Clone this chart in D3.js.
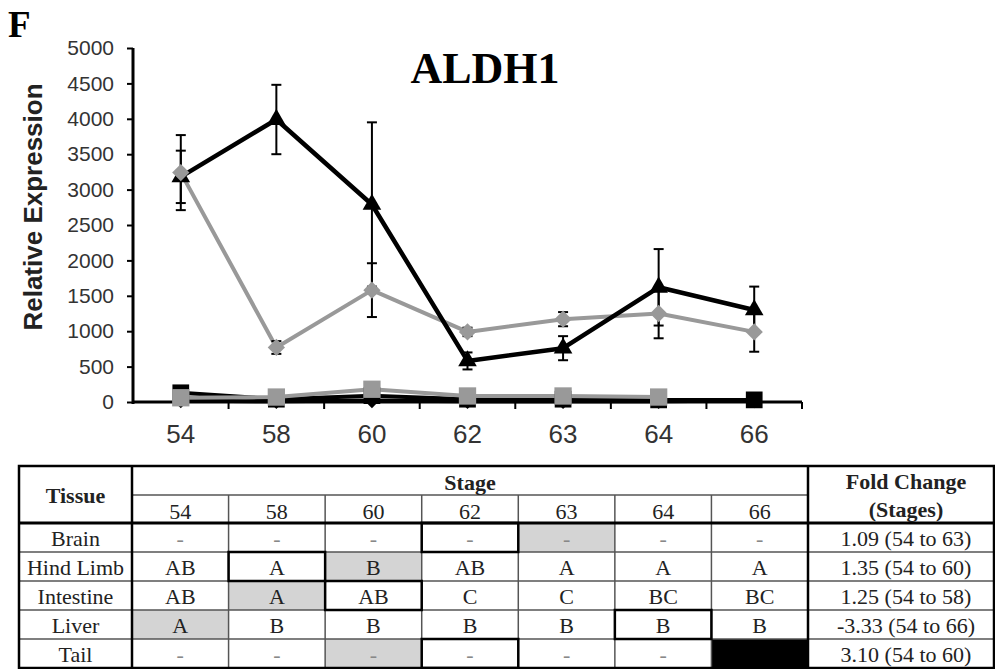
<!DOCTYPE html>
<html>
<head>
<meta charset="utf-8">
<script src="https://cdn.jsdelivr.net/npm/d3@7/dist/d3.min.js"></script>
<style>
  html, body { margin: 0; padding: 0; background: #fff; }
  svg { display: block; }
</style>
</head>
<body>
<svg id="fig" width="995" height="669"></svg>
<script>
// ALDH1 relative expression by developmental stage, with the statistics table below.
const stages = ["54", "58", "60", "62", "63", "64", "66"];
const yTicks = [0, 500, 1000, 1500, 2000, 2500, 3000, 3500, 4000, 4500, 5000];

// Series means and standard errors
const intestine    = [3180, 3990, 2790, 580, 760, 1620, 1300];
const intestineErr = [370, 490, 1160, 120, 170, 540, 330];
const liver        = [3240, 770, 1580, 990, 1170, 1250, 990];
const liverErr     = [530, 90, 380, 60, 100, 350, 280];
const tail         = [60, 70, 180, 85, 85, 70, null];
const brain        = [130, 40, 90, 40, 40, 30, 30];
const hindLimb     = [20, 10, 20, 10, 10, 10, 20];

// Table contents
const tissues = ["Brain", "Hind Limb", "Intestine", "Liver", "Tail"];
const groupLetters = [
  ["-", "-", "-", "-", "-", "-", "-"],
  ["AB", "A", "B", "AB", "A", "A", "A"],
  ["AB", "A", "AB", "C", "C", "BC", "BC"],
  ["A", "B", "B", "B", "B", "B", "B"],
  ["-", "-", "-", "-", "-", "-", "-"]
];
const foldChange = ["1.09 (54 to 63)", "1.35 (54 to 60)", "1.25 (54 to 58)", "-3.33 (54 to 66)", "3.10 (54 to 60)"];
const peakStage = ["63", "60", "58", "54", "60"];
const lowStage = ["62", "58", "60", "64", "62"];
const noDataStage = [null, null, null, null, "66"];

const svg = d3.select("#fig");
const sans = "'Liberation Sans', Arial, sans-serif";
const serif = "'Liberation Serif', 'Times New Roman', serif";

// ---------- chart ----------
const plot = { left: 133, right: 802, top: 48, bottom: 402 };
const x = d3.scaleBand().domain(stages).range([plot.left, plot.right]);
const y = d3.scaleLinear().domain([0, 5000]).range([plot.bottom, plot.top]);
const cx = s => x(s) + x.bandwidth() / 2;

svg.append("text").attr("x", 8).attr("y", 37)
  .attr("font-family", serif).attr("font-weight", "bold").attr("font-size", 37)
  .text("F");

svg.append("text").attr("x", 485).attr("y", 83).attr("text-anchor", "middle")
  .attr("font-family", serif).attr("font-weight", "bold").attr("font-size", 44)
  .text("ALDH1");

svg.append("text")
  .attr("transform", "translate(42,207) rotate(-90)")
  .attr("text-anchor", "middle")
  .attr("font-family", sans).attr("font-weight", "bold").attr("font-size", 26)
  .attr("fill", "#222")
  .text("Relative Expression");

// y axis
const yAxis = svg.append("g").attr("transform", `translate(${plot.left},0)`)
  .call(d3.axisLeft(y).tickValues(yTicks).tickFormat(d3.format("d"))
    .tickSize(6).tickPadding(13).tickSizeOuter(0));
yAxis.select(".domain").attr("stroke", "#000").attr("stroke-width", 3)
  .attr("d", `M0,${plot.top}V${plot.bottom + 2}`);
yAxis.selectAll(".tick line").attr("stroke", "#000").attr("stroke-width", 2);
yAxis.selectAll(".tick text").attr("font-family", sans).attr("font-size", 21).attr("fill", "#333");

// x axis: ticks at category boundaries
const xAxisG = svg.append("g").attr("transform", `translate(0,${plot.bottom})`);
xAxisG.append("line").attr("x1", plot.left).attr("x2", plot.right)
  .attr("stroke", "#000").attr("stroke-width", 3);
const boundaries = stages.map(s => x(s)).slice(1).concat([plot.right]);
xAxisG.selectAll("line.tk").data(boundaries).join("line").attr("class", "tk")
  .attr("x1", d => d).attr("x2", d => d).attr("y1", 0).attr("y2", 7)
  .attr("stroke", "#000").attr("stroke-width", 2);
xAxisG.selectAll("text").data(stages).join("text")
  .attr("x", d => cx(d)).attr("y", 41).attr("text-anchor", "middle")
  .attr("font-family", sans).attr("font-size", 26).attr("fill", "#333")
  .text(d => d);

const line = d3.line().defined(d => d.v != null).x(d => cx(d.s)).y(d => y(d.v));
const pts = arr => stages.map((s, i) => ({ s, v: arr[i] }));

const black = "#000", grey = "#999";

// lines
const lines = svg.append("g").attr("fill", "none").attr("stroke-linejoin", "round");
lines.append("path").attr("d", line(pts(hindLimb))).attr("stroke", black).attr("stroke-width", 4);
lines.append("path").attr("d", line(pts(brain))).attr("stroke", black).attr("stroke-width", 4);
lines.append("path").attr("d", line(pts(tail))).attr("stroke", grey).attr("stroke-width", 4);
lines.append("path").attr("d", line(pts(liver))).attr("stroke", grey).attr("stroke-width", 4);
lines.append("path").attr("d", line(pts(intestine))).attr("stroke", black).attr("stroke-width", 4.5);

// error bars
function errorBars(vals, errs) {
  const g = svg.append("g").attr("stroke", "#000").attr("stroke-width", 2);
  const data = stages.map((s, i) => ({ s, v: vals[i], e: errs[i] }));
  g.selectAll("line.v").data(data).join("line").attr("class", "v")
    .attr("x1", d => cx(d.s)).attr("x2", d => cx(d.s))
    .attr("y1", d => y(d.v - d.e)).attr("y2", d => y(d.v + d.e));
  ["top", "bot"].forEach(k => {
    g.selectAll("line." + k).data(data).join("line").attr("class", k)
      .attr("x1", d => cx(d.s) - 5).attr("x2", d => cx(d.s) + 5)
      .attr("y1", d => y(k === "top" ? d.v + d.e : d.v - d.e))
      .attr("y2", d => y(k === "top" ? d.v + d.e : d.v - d.e));
  });
}
errorBars(liver, liverErr);
errorBars(intestine, intestineErr);

// markers
function markers(vals, type, size, fill) {
  svg.append("g").selectAll("path").data(pts(vals).filter(d => d.v != null)).join("path")
    .attr("transform", d => `translate(${cx(d.s)},${y(d.v)})`)
    .attr("d", d3.symbol().type(type).size(size)())
    .attr("fill", fill);
}
markers(hindLimb, d3.symbolDiamond2, 150, black);
markers(brain, d3.symbolSquare, 280, black);
markers(tail, d3.symbolSquare, 300, grey);
markers(intestine, d3.symbolTriangle, 150, black);
markers(liver, d3.symbolDiamond2, 190, grey);

// ---------- table ----------
const tbl = { left: 19, top: 466, right: 994, headMid: 495, headBottom: 523, rowH: 29 };
const colX = d3.scaleBand().domain(stages).range([132, 808]);
const foldLeft = 808;
const rowY = i => tbl.headBottom + i * tbl.rowH;
const tblBottom = rowY(tissues.length);

const T = svg.append("g");

// cell fills
tissues.forEach((t, i) => {
  if (peakStage[i]) T.append("rect").attr("x", colX(peakStage[i])).attr("y", rowY(i))
    .attr("width", colX.bandwidth()).attr("height", tbl.rowH).attr("fill", "#d4d4d4");
  if (noDataStage[i]) T.append("rect").attr("x", colX(noDataStage[i])).attr("y", rowY(i))
    .attr("width", colX.bandwidth()).attr("height", tbl.rowH).attr("fill", "#000");
});

// thin grid lines
const thin = { stroke: "#555", w: 1.5 };
T.append("line").attr("x1", 132).attr("x2", foldLeft).attr("y1", tbl.headMid).attr("y2", tbl.headMid)
  .attr("stroke", thin.stroke).attr("stroke-width", thin.w);
stages.slice(1).forEach(s => {
  T.append("line").attr("x1", colX(s)).attr("x2", colX(s)).attr("y1", tbl.headMid).attr("y2", tblBottom)
    .attr("stroke", thin.stroke).attr("stroke-width", thin.w);
});
tissues.slice(1).forEach((t, i) => {
  T.append("line").attr("x1", tbl.left).attr("x2", tbl.right).attr("y1", rowY(i + 1)).attr("y2", rowY(i + 1))
    .attr("stroke", thin.stroke).attr("stroke-width", thin.w);
});

// heavy lines
const heavy = (x1, y1, x2, y2, w) => T.append("line").attr("x1", x1).attr("y1", y1).attr("x2", x2).attr("y2", y2)
  .attr("stroke", "#000").attr("stroke-width", w || 2.5);
heavy(tbl.left, tbl.headBottom, tbl.right, tbl.headBottom, 3);
heavy(132, tbl.top, 132, tblBottom);
heavy(foldLeft, tbl.top, foldLeft, tblBottom);
T.append("rect").attr("x", tbl.left).attr("y", tbl.top)
  .attr("width", tbl.right - tbl.left).attr("height", tblBottom - tbl.top)
  .attr("fill", "none").attr("stroke", "#000").attr("stroke-width", 2.5);

// outlined cells
tissues.forEach((t, i) => {
  if (lowStage[i]) T.append("rect").attr("x", colX(lowStage[i])).attr("y", rowY(i))
    .attr("width", colX.bandwidth()).attr("height", tbl.rowH)
    .attr("fill", "none").attr("stroke", "#000").attr("stroke-width", 2.5);
});

// header text
const txt = (xv, yv, s, bold, fill) => T.append("text").attr("x", xv).attr("y", yv)
  .attr("text-anchor", "middle").attr("font-family", serif).attr("font-size", 22)
  .attr("font-weight", bold ? "bold" : "normal").attr("fill", fill || "#222").text(s);
txt((tbl.left + 132) / 2, 503, "Tissue", true);
txt((132 + foldLeft) / 2, 490, "Stage", true);
txt((foldLeft + tbl.right) / 2 + 5, 489, "Fold Change", true);
txt((foldLeft + tbl.right) / 2 + 5, 517, "(Stages)", true);
stages.forEach(s => txt(colX(s) + colX.bandwidth() / 2, 519, s, false));

// body text
tissues.forEach((t, i) => {
  const base = rowY(i) + 23;
  txt((tbl.left + 132) / 2, base, t, false);
  groupLetters[i].forEach((g, j) => {
    if (noDataStage[i] === stages[j]) return;
    txt(colX(stages[j]) + colX.bandwidth() / 2, base, g, false, g === "-" ? "#888" : "#222");
  });
  txt((foldLeft + tbl.right) / 2 + 5, base, foldChange[i], false);
});
</script>
</body>
</html>
